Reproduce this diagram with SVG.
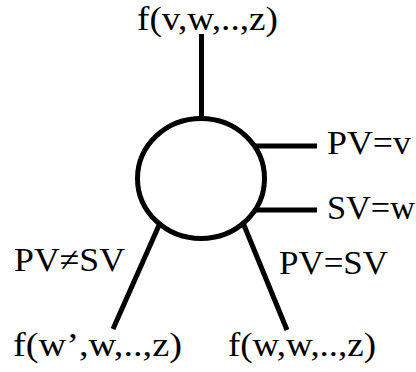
<svg xmlns="http://www.w3.org/2000/svg" width="416" height="372" viewBox="0 0 416 372">
<style>
text{font-family:"Liberation Serif","Times New Roman",serif;font-size:34px;fill:#000}
.ln{stroke:#000;stroke-width:5;fill:none}
</style>
<rect width="416" height="372" fill="#fff"/>
<g id="connectors">
<line class="ln" x1="201.5" y1="34" x2="201.5" y2="118"/>
<line class="ln" x1="255" y1="146" x2="317" y2="146"/>
<line class="ln" x1="255" y1="210" x2="317" y2="210"/>
<line class="ln" x1="160" y1="223" x2="113" y2="329"/>
<line class="ln" x1="243.5" y1="224" x2="287" y2="330"/>
</g>
<g id="node-switch">
<ellipse class="ln" cx="201" cy="178.5" rx="63.5" ry="60" fill="#fff"/>
</g>
<g id="node-top"><text x="137" y="30" font-size="33" textLength="141" lengthAdjust="spacingAndGlyphs">f(v,w,..,z)</text></g>
<g id="node-pv"><text x="327" y="154" textLength="84" lengthAdjust="spacingAndGlyphs">PV=v</text></g>
<g id="node-sv"><text x="327" y="219" textLength="88" lengthAdjust="spacingAndGlyphs">SV=w</text></g>
<g id="node-left"><text x="13" y="356" textLength="169" lengthAdjust="spacingAndGlyphs">f(w’,w,..,z)</text></g>
<g id="node-right"><text x="228" y="356" textLength="148" lengthAdjust="spacingAndGlyphs">f(w,w,..,z)</text></g>
<g id="edge-labels">
<text x="14" y="271" textLength="111" lengthAdjust="spacingAndGlyphs">PV≠SV</text>
<text x="279" y="274" textLength="109" lengthAdjust="spacingAndGlyphs">PV=SV</text>
</g>
</svg>
